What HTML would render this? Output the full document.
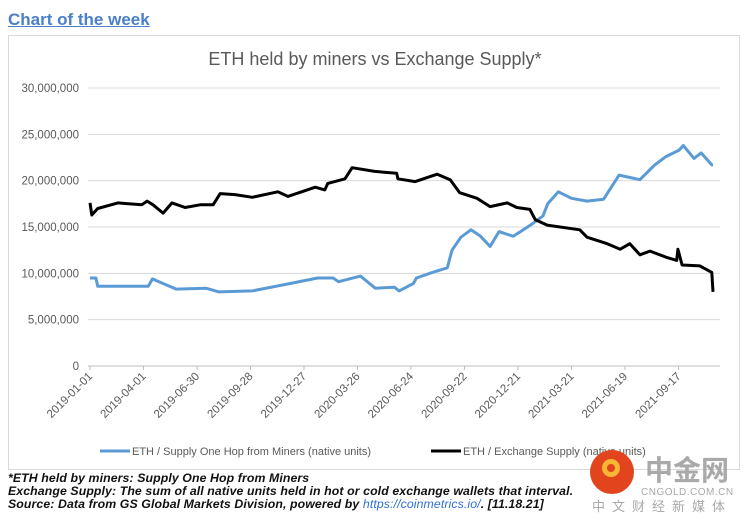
<!DOCTYPE html>
<html><head><meta charset="utf-8"><style>
body{margin:0;width:746px;height:522px;background:#fff;overflow:hidden;position:relative;font-family:"Liberation Sans",sans-serif}
.a{position:absolute}
</style></head><body>
<div class="a" style="left:8px;top:10px;font-size:17px;font-weight:bold;color:#4a7fc9;text-decoration:underline">Chart of the week</div>
<svg class="a" style="left:0;top:0" width="746" height="522">
<rect x="8.5" y="35.5" width="731" height="434" fill="#fff" stroke="#d9d9d9"/>
<text x="375" y="65" text-anchor="middle" font-size="18" fill="#595959">ETH held by miners vs Exchange Supply*</text>
<g id="grid"></g><g id="xt"></g><g id="series"></g>
<g>
<line x1="100" y1="451" x2="130" y2="451" stroke="#5b9bd5" stroke-width="3"/>
<text x="132" y="455" font-size="11" fill="#595959">ETH / Supply One Hop from Miners (native units)</text>
<line x1="431" y1="451" x2="461" y2="451" stroke="#000" stroke-width="3"/>
<text x="463" y="455" font-size="11" fill="#595959">ETH / Exchange Supply (native units)</text>
</g>
<g>
<circle cx="612" cy="472" r="22" fill="#e2441d"/>
<circle cx="611" cy="468" r="9" fill="#f7b733"/>
<circle cx="611" cy="468" r="4" fill="#e2441d"/>
<text x="645" y="480" font-size="28" font-weight="bold" fill="#a9a9a9" font-family="Noto Sans CJK SC,sans-serif">中金网</text>
<text x="641" y="495" font-size="10" fill="#a9a9a9" letter-spacing="0.5">CNGOLD.COM.CN</text>
<text x="592" y="511" font-size="13" fill="#a9a9a9" letter-spacing="7" font-family="Noto Sans CJK SC,sans-serif">中文财经新媒体</text>
</g>
</svg>
<div class="a" style="left:8px;top:472px;font-size:12.3px;font-weight:bold;font-style:italic;line-height:13px;letter-spacing:0.1px;color:#111">
*ETH held by miners: Supply One Hop from Miners<br>
Exchange Supply: The sum of all native units held in hot or cold exchange wallets that interval.<br>
Source: Data from GS Global Markets Division, powered by <span style="color:#2e6fd8;font-weight:normal">https://coinmetrics.io/</span>. [11.18.21]
</div>
<script>
const yTicks=[0,5e6,10e6,15e6,20e6,25e6,30e6];
const xTickLabels=["2019-01-01","2019-04-01","2019-06-30","2019-09-28","2019-12-27","2020-03-26","2020-06-24","2020-09-22","2020-12-21","2021-03-21","2021-06-19","2021-09-17"];
const exDays=[0,3,13,47,87,96,106,123,138,160,185,207,219,244,273,316,333,379,395,400,429,441,479,516,518,547,584,606,622,651,673,702,718,740,749,769,824,836,870,892,908,925,942,971,987,989,996,1026,1046,1048];
const exVals=[17.6,16.3,17.0,17.6,17.4,17.8,17.4,16.5,17.6,17.1,17.4,17.4,18.6,18.5,18.2,18.8,18.3,19.3,19.0,19.7,20.2,21.4,21.0,20.8,20.2,19.9,20.7,20.1,18.7,18.1,17.2,17.6,17.1,16.9,15.8,15.2,14.7,13.9,13.2,12.6,13.2,12.0,12.4,11.7,11.4,12.6,10.9,10.8,10.1,8.0];
const mnDays=[0,10,13,98,105,112,145,195,217,273,328,383,409,418,455,480,512,520,544,549,576,601,609,624,641,657,673,688,712,741,762,770,788,810,836,864,890,925,950,969,991,998,1016,1028,1046,1048];
const mnVals=[9.5,9.5,8.6,8.6,9.4,9.2,8.3,8.4,8.0,8.1,8.8,9.5,9.5,9.1,9.7,8.4,8.5,8.1,8.9,9.5,10.1,10.6,12.5,13.9,14.7,14.0,12.9,14.5,14.0,15.2,16.2,17.5,18.8,18.1,17.8,18.0,20.6,20.1,21.7,22.6,23.3,23.8,22.4,23.0,21.7,21.7];
const NS="http://www.w3.org/2000/svg";
const X0=90,PX=53.5/90,Y0=366,YH=278;
const xS=d=>X0+d*PX, yS=v=>Y0-v/30e6*YH;
const grid=document.getElementById('grid');
yTicks.forEach(v=>{
 const l=document.createElementNS(NS,'line');
 
 
 l.setAttribute('x1',88);l.setAttribute('x2',720);l.setAttribute('y1',yS(v));l.setAttribute('y2',yS(v));
 l.setAttribute('stroke',v===0?'#bfbfbf':'#d9d9d9');l.setAttribute('stroke-width',1);
 grid.appendChild(l);
 const t=document.createElementNS(NS,'text');
 
 
 t.setAttribute('x',79);t.setAttribute('y',yS(v)+4);t.setAttribute('text-anchor','end');
 t.setAttribute('font-size',11.5);t.setAttribute('fill','#595959');
 t.textContent=v===0?'0':v.toLocaleString('en-US');
 grid.appendChild(t);
});
const xt=document.getElementById('xt');
xTickLabels.forEach((s,i)=>{
 const x=xS(i*90);
 const l=document.createElementNS(NS,'line');
 
 
 l.setAttribute('x1',x);l.setAttribute('x2',x);l.setAttribute('y1',366);l.setAttribute('y2',370);l.setAttribute('stroke','#bfbfbf');
 xt.appendChild(l);
 const t=document.createElementNS(NS,'text');
 
 
 t.setAttribute('x',x+3);t.setAttribute('y',377);t.setAttribute('text-anchor','end');
 t.setAttribute('font-size',11.5);t.setAttribute('fill','#595959');
 t.setAttribute('transform','rotate(-45 '+(x+3)+' 377)');
 t.textContent=s;
 xt.appendChild(t);
});
const sg=document.getElementById('series');
function line(days,vals,color,name){
 const p=document.createElementNS(NS,'polyline');
 
 
 p.setAttribute('points',days.map((d,i)=>xS(d).toFixed(1)+','+yS(vals[i]*1e6).toFixed(1)).join(' '));
 p.setAttribute('fill','none');p.setAttribute('stroke',color);p.setAttribute('stroke-width',3);p.setAttribute('stroke-linejoin','round');
 sg.appendChild(p);
}
line(mnDays,mnVals,'#5b9bd5','miners-supply-line');
line(exDays,exVals,'#000','exchange-supply-line');
</script>
</body></html>
